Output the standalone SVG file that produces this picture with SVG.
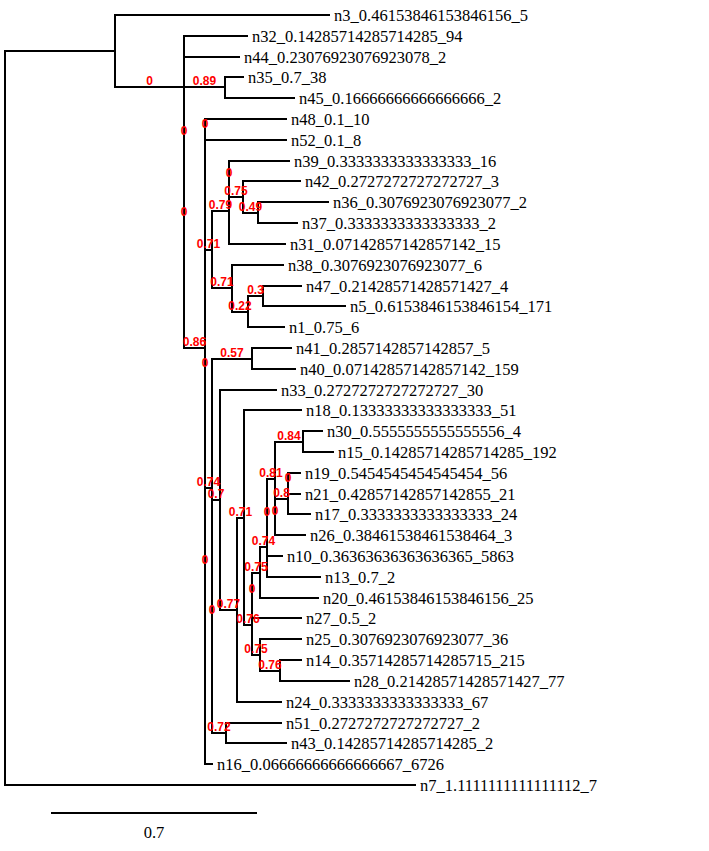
<svg xmlns="http://www.w3.org/2000/svg" width="709" height="851" viewBox="0 0 709 851">
<style>
.br{fill:none;stroke:#000;stroke-width:2;stroke-linecap:square}
.lf{font-family:"Liberation Serif","Times New Roman",serif;font-size:16.5px;fill:#000}
.sp{font-family:"Liberation Sans",Arial,sans-serif;font-size:12px;font-weight:bold;fill:#ff0000;text-anchor:middle}
</style>
<rect width="709" height="851" fill="#fff"/>
<g id="connectors" class="br">
<path d="M5,51V785 M115,15V87 M184,36V137 M184,57V218 M184,87V348 M225,77V98 M205,130V566 M205,119V140 M205,250V488 M205,369V764 M212,211V288 M229,179V244 M229,161V197 M243,181V213 M258,202V223 M232,265V312 M248,296V327 M263,286V306 M212,359V616 M252,348V369 M212,500V733 M220,390V610 M237,518V702 M244,410V625 M252,595V655 M252,573V618 M260,639V671 M280,660V681 M260,547V598 M267,518V577 M267,479V556 M275,442V517 M303,431V452 M275,499V535 M288,484V514 M288,473V494 M226,723V743"/>
<path d="M5,51H115 M5,785H415 M115,15H329 M115,87H184 M184,36H247 M184,57H239 M184,87H225 M225,77H243 M225,98H294 M184,348H205 M205,119H286 M205,140H286 M205,250H212 M212,211H229 M229,161H289 M229,197H243 M243,181H300 M243,213H258 M258,202H328 M258,223H297 M229,244H285 M212,288H232 M232,265H283 M232,312H248 M248,296H263 M263,286H301 M263,306H345 M248,327H284 M205,764H212 M205,488H212 M212,359H252 M252,348H291 M252,369H295 M212,500H220 M212,733H226 M226,723H281 M226,743H286 M220,390H276 M220,610H237 M237,702H281 M237,518H244 M244,410H301 M244,625H252 M252,618H301 M252,655H260 M260,639H301 M260,671H280 M280,660H301 M280,681H349 M252,573H260 M260,598H318 M260,547H267 M267,577H320 M267,556H282 M267,479H275 M275,442H303 M303,431H322 M303,452H333 M275,535H305 M275,499H288 M288,514H310 M288,473H300 M288,494H300"/>
<path d="M52,813H256"/>
</g>
<g id="leaves" class="lf">
<text id="n3" x="334" y="20.5">n3_0.46153846153846156_5</text>
<text id="n32" x="252" y="41.5">n32_0.14285714285714285_94</text>
<text id="n44" x="244" y="62.5">n44_0.23076923076923078_2</text>
<text id="n35" x="248" y="82.5">n35_0.7_38</text>
<text id="n45" x="299" y="103.5">n45_0.16666666666666666_2</text>
<text id="n48" x="291" y="124.5">n48_0.1_10</text>
<text id="n52" x="291" y="145.5">n52_0.1_8</text>
<text id="n39" x="294" y="166.5">n39_0.3333333333333333_16</text>
<text id="n42" x="305" y="186.5">n42_0.2727272727272727_3</text>
<text id="n36" x="333" y="207.5">n36_0.3076923076923077_2</text>
<text id="n37" x="302" y="228.5">n37_0.3333333333333333_2</text>
<text id="n31" x="290" y="249.5">n31_0.07142857142857142_15</text>
<text id="n38" x="288" y="270.5">n38_0.3076923076923077_6</text>
<text id="n47" x="306" y="291.5">n47_0.21428571428571427_4</text>
<text id="n5" x="350" y="311.5">n5_0.6153846153846154_171</text>
<text id="n1" x="289" y="332.5">n1_0.75_6</text>
<text id="n41" x="296" y="353.5">n41_0.2857142857142857_5</text>
<text id="n40" x="300" y="374.5">n40_0.07142857142857142_159</text>
<text id="n33" x="281" y="395.5">n33_0.2727272727272727_30</text>
<text id="n18" x="306" y="415.5">n18_0.13333333333333333_51</text>
<text id="n30" x="327" y="436.5">n30_0.5555555555555556_4</text>
<text id="n15" x="338" y="457.5">n15_0.14285714285714285_192</text>
<text id="n19" x="305" y="478.5">n19_0.5454545454545454_56</text>
<text id="n21" x="305" y="499.5">n21_0.42857142857142855_21</text>
<text id="n17" x="315" y="519.5">n17_0.3333333333333333_24</text>
<text id="n26" x="310" y="540.5">n26_0.38461538461538464_3</text>
<text id="n10" x="287" y="561.5">n10_0.36363636363636365_5863</text>
<text id="n13" x="325" y="582.5">n13_0.7_2</text>
<text id="n20" x="323" y="603.5">n20_0.46153846153846156_25</text>
<text id="n27" x="306" y="623.5">n27_0.5_2</text>
<text id="n25" x="306" y="644.5">n25_0.3076923076923077_36</text>
<text id="n14" x="306" y="665.5">n14_0.35714285714285715_215</text>
<text id="n28" x="354" y="686.5">n28_0.21428571428571427_77</text>
<text id="n24" x="286" y="707.5">n24_0.3333333333333333_67</text>
<text id="n51" x="286" y="728.5">n51_0.2727272727272727_2</text>
<text id="n43" x="291" y="748.5">n43_0.14285714285714285_2</text>
<text id="n16" x="217" y="769.5">n16_0.06666666666666667_6726</text>
<text id="n7" x="420" y="790.5">n7_1.1111111111111112_7</text>
</g>
<g id="supports" class="sp">
<text x="149.5" y="85">0</text>
<text x="204.5" y="85">0.89</text>
<text x="184" y="135">0</text>
<text x="184" y="216">0</text>
<text x="194.5" y="346">0.86</text>
<text x="205" y="128">0</text>
<text x="205" y="367">0</text>
<text x="205" y="564">0</text>
<text x="208.5" y="248">0.71</text>
<text x="220.5" y="209">0.79</text>
<text x="229" y="177">0</text>
<text x="236" y="195">0.75</text>
<text x="250.5" y="211">0.49</text>
<text x="222" y="286">0.71</text>
<text x="240" y="310">0.22</text>
<text x="255.5" y="294">0.3</text>
<text x="208.5" y="486">0.74</text>
<text x="232" y="357">0.57</text>
<text x="212" y="614">0</text>
<text x="216" y="498">0.7</text>
<text x="228.5" y="608">0.77</text>
<text x="240.5" y="516">0.71</text>
<text x="271" y="477">0.81</text>
<text x="289" y="440">0.84</text>
<text x="275" y="515">0</text>
<text x="281.5" y="497">0.8</text>
<text x="288" y="482">0</text>
<text x="267" y="516">0</text>
<text x="263.5" y="545">0.74</text>
<text x="256" y="571">0.75</text>
<text x="252" y="593">0</text>
<text x="248" y="623">0.76</text>
<text x="256" y="653">0.75</text>
<text x="270" y="669">0.76</text>
<text x="219" y="731">0.72</text>
</g>
<text id="scale" x="154" y="838" class="lf" text-anchor="middle">0.7</text>
</svg>
